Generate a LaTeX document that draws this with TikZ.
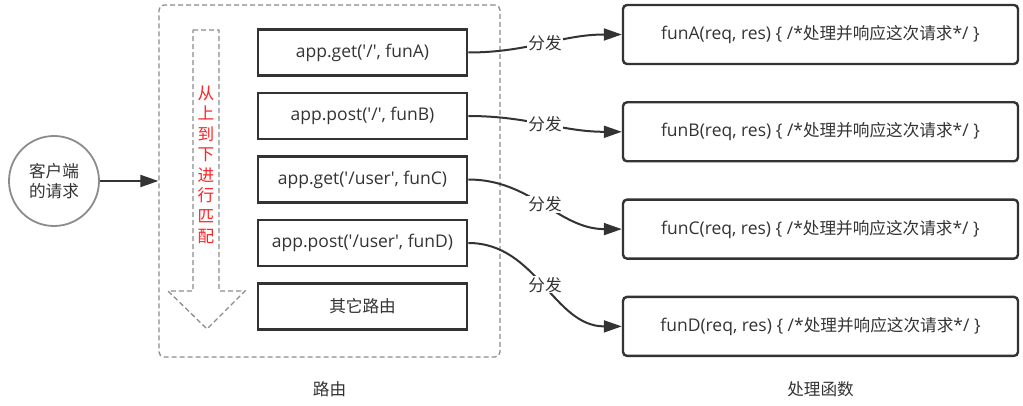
\documentclass[tikz,border=0pt]{standalone}
\usepackage{fontspec}
\setmainfont{Open Sans}
\newfontfamily\cjk{Noto Sans CJK SC}[Scale=0.95]
\usepackage{xcolor}
\usepackage{tikz}
\usetikzlibrary{positioning}
\usetikzlibrary{arrows.meta}

\definecolor{ink}{HTML}{333333}
\definecolor{frame}{HTML}{8C8C8C}
\definecolor{hint}{HTML}{FF2222}
\newcommand{\straightq}{\textquotesingle}
\newcommand{\cjktext}{\fontsize{17.5}{20.5}\selectfont\cjk}

\begin{document}
\begin{tikzpicture}[x=1pt, y=-1pt, every text node part/.style={align=center},
  font=\fontsize{17.5}{20.5}\selectfont, text=ink,
  route/.style={draw=ink, line width=2.8pt, minimum width=209pt, minimum height=46pt, inner sep=0pt},
  handler/.style={draw=ink, line width=2.4pt, rounded corners=4pt, minimum width=395pt, minimum height=59pt, inner sep=0pt},
  dispatch/.style={draw=ink, line width=2pt, -{Triangle[length=18pt, width=12pt]}},
  tag/.style={fill=white, inner sep=1pt, font=\cjktext}]
\useasboundingbox (0,0) rectangle (1023,406);

\node (router) [draw=frame, dash pattern=on 5pt off 3pt, line width=1.3pt, rounded corners=5pt, minimum width=341pt, minimum height=352pt, inner sep=0pt] at (329.5,181) {};
\node (client) [draw=frame, circle, line width=1.8pt, minimum size=90pt, inner sep=0pt, font=\cjktext] at (54,181) {客户端\\的请求};

\draw [frame, dash pattern=on 5pt off 3pt, line width=1.3pt] (193,30) -- (219,30) -- (219,291) -- (245,291) -- (207,329) -- (168,291) -- (193,291) -- cycle;
\node (order) [text=hint, font=\cjktext] at (206,165) {从\\上\\到\\下\\进\\行\\匹\\配};

\node (get root) [route] at (362.5,52.5) {app.get(\straightq/\straightq, funA)};
\node (post root) [route, node distance=63.5pt, below of=get root] {app.post(\straightq/\straightq, funB)};
\node (get user) [route, node distance=63.5pt, below of=post root] {app.get(\straightq/user\straightq, funC)};
\node (post user) [route, node distance=63.5pt, below of=get user] {app.post(\straightq/user\straightq, funD)};
\node (other routes) [route, node distance=63.5pt, below of=post user, font=\cjktext] {其它路由};

\node (fun a) [handler] at (820.5,34.5) {funA(req, res) \{ /*{\cjk 处理并响应这次请求}*/ \}};
\node (fun b) [handler, node distance=97.3pt, below of=fun a] {funB(req, res) \{ /*{\cjk 处理并响应这次请求}*/ \}};
\node (fun c) [handler, node distance=97.3pt, below of=fun b] {funC(req, res) \{ /*{\cjk 处理并响应这次请求}*/ \}};
\node (fun d) [handler, node distance=97.3pt, below of=fun c] {funD(req, res) \{ /*{\cjk 处理并响应这次请求}*/ \}};

\draw [dispatch] (client.east) -- (router.west);
\draw [dispatch] (get root.east) to[out=0, in=180] node[tag] {分发} (fun a.west);
\draw [dispatch] (post root.east) to[out=0, in=180] node[tag] {分发} (fun b.west);
\draw [dispatch] (get user.east) to[out=0, in=180] node[tag] {分发} (fun c.west);
\draw [dispatch] (post user.east) to[out=0, in=180] node[tag] {分发} (fun d.west);

\node [node distance=208pt, below of=router, font=\cjktext] {路由};
\node [node distance=62.5pt, below of=fun d, font=\cjktext] {处理函数};

\end{tikzpicture}
\end{document}
